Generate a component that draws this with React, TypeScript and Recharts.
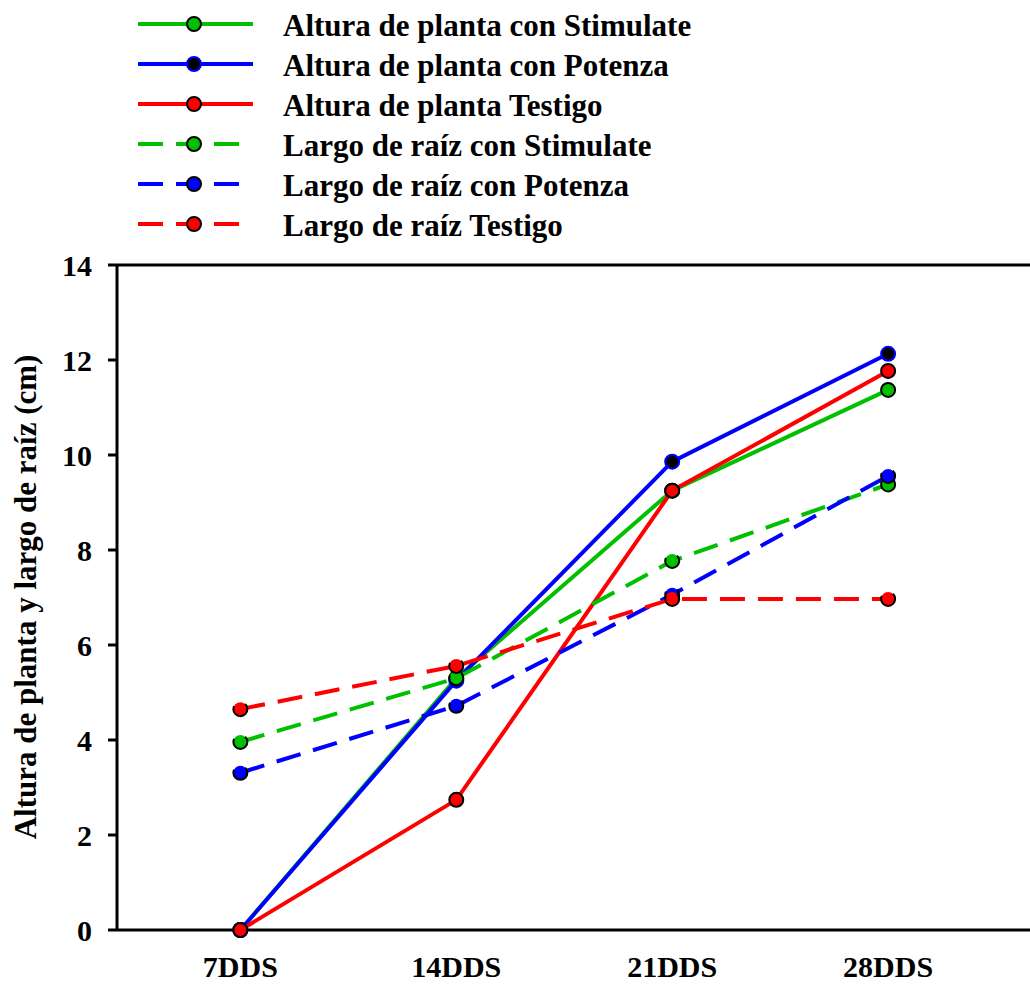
import { LineChart, Line, XAxis, YAxis, ReferenceLine, Legend } from "recharts";

const days = [7, 14, 21, 28];
const alturaStimulate = [0, 5.3, 9.25, 11.37];
const alturaPotenza = [0, 5.25, 9.86, 12.13];
const alturaTestigo = [0, 2.74, 9.25, 11.77];
const raizStimulate = [3.96, 5.3, 7.77, 9.38];
const raizPotenza = [3.31, 4.72, 7.06, 9.56];
const raizTestigo = [4.65, 5.56, 6.97, 6.97];
const yTicks = [0, 2, 4, 6, 8, 10, 12, 14];

const GREEN = "#00c000";
const BLUE = "#0000ff";
const RED = "#ff0000";
const FONT = "'Liberation Serif', 'Times New Roman', serif";

const data = days.map((d, i) => ({
  day: d,
  as: alturaStimulate[i],
  ap: alturaPotenza[i],
  at: alturaTestigo[i],
  rs: raizStimulate[i],
  rp: raizPotenza[i],
  rt: raizTestigo[i],
}));

const series = [
  { key: "as", name: "Altura de planta con Stimulate", color: GREEN, dash: false, fill: GREEN, ring: "#000" },
  { key: "ap", name: "Altura de planta con Potenza", color: BLUE, dash: false, fill: "#000", ring: BLUE },
  { key: "at", name: "Altura de planta Testigo", color: RED, dash: false, fill: RED, ring: "#000" },
  { key: "rs", name: "Largo de raíz con Stimulate", color: GREEN, dash: true, fill: GREEN, ring: "#000" },
  { key: "rp", name: "Largo de raíz con Potenza", color: BLUE, dash: true, fill: BLUE, ring: "#000" },
  { key: "rt", name: "Largo de raíz Testigo", color: RED, dash: true, fill: RED, ring: "#000" },
];

const LEGEND_H = 250;

function LegendBox() {
  return (
    <svg width={1030} height={LEGEND_H} style={{ display: "block" }}>
      {series.map((s, i) => {
        const y = 24 + i * 40;
        return (
          <g key={s.key}>
            <line
              x1={138}
              x2={s.dash ? 240 : 253}
              y1={y}
              y2={y}
              stroke={s.color}
              strokeWidth={4}
              strokeDasharray={s.dash ? "25 13" : undefined}
            />
            <circle cx={194} cy={y} r={7} fill={s.fill} stroke={s.ring} strokeWidth={2} />
            <text
              x={283}
              y={y + 1}
              dominantBaseline="central"
              fontFamily={FONT}
              fontWeight="bold"
              fontSize={31}
              fill="#000"
            >
              {s.name}
            </text>
          </g>
        );
      })}
    </svg>
  );
}

export default function App() {
  return (
    <div style={{ position: "absolute", left: 0, top: 0, width: 1030, height: 984, background: "#fff" }}>
      <LineChart
        width={1030}
        height={984}
        data={data}
        margin={{ top: 265 - LEGEND_H, right: 0, left: 0, bottom: 0 }}
      >
        <Legend
          verticalAlign="top"
          align="left"
          height={LEGEND_H}
          content={() => <LegendBox />}
          wrapperStyle={{ top: 0, left: 0, width: 1030 }}
        />
        <XAxis
          type="number"
          dataKey="day"
          domain={[3, 32.6]}
          ticks={days}
          allowDataOverflow
          tickFormatter={(d: number) => `${d}DDS`}
          tickLine={false}
          tickMargin={20}
          height={54}
          axisLine={{ stroke: "#000", strokeWidth: 3 }}
          tick={{ fill: "#000", fontFamily: FONT, fontWeight: "bold", fontSize: 30 }}
        />
        <YAxis
          type="number"
          domain={[0, 14]}
          ticks={yTicks}
          width={117}
          tickSize={9}
          tickMargin={16}
          axisLine={{ stroke: "#000", strokeWidth: 3 }}
          tickLine={{ stroke: "#000", strokeWidth: 3 }}
          tick={{ fill: "#000", fontFamily: FONT, fontWeight: "bold", fontSize: 30 }}
          label={{
            content: () => (
              <text
                x={25}
                y={597}
                transform="rotate(-90 25 597)"
                textAnchor="middle"
                dominantBaseline="central"
                fontFamily={FONT}
                fontWeight="bold"
                fontSize={31}
                fill="#000"
              >
                Altura de planta y largo de raíz (cm)
              </text>
            ),
          }}
        />
        <ReferenceLine y={14} stroke="#000" strokeWidth={3} ifOverflow="visible" />
        {series.map((s) => (
          <Line
            key={s.key}
            dataKey={s.key}
            name={s.name}
            type="linear"
            stroke={s.color}
            strokeWidth={4}
            strokeDasharray={s.dash ? "25 13" : undefined}
            dot={{ r: 7, fill: s.fill, stroke: s.ring, strokeWidth: 2 }}
            activeDot={false}
            isAnimationActive={false}
          />
        ))}
      </LineChart>
    </div>
  );
}
